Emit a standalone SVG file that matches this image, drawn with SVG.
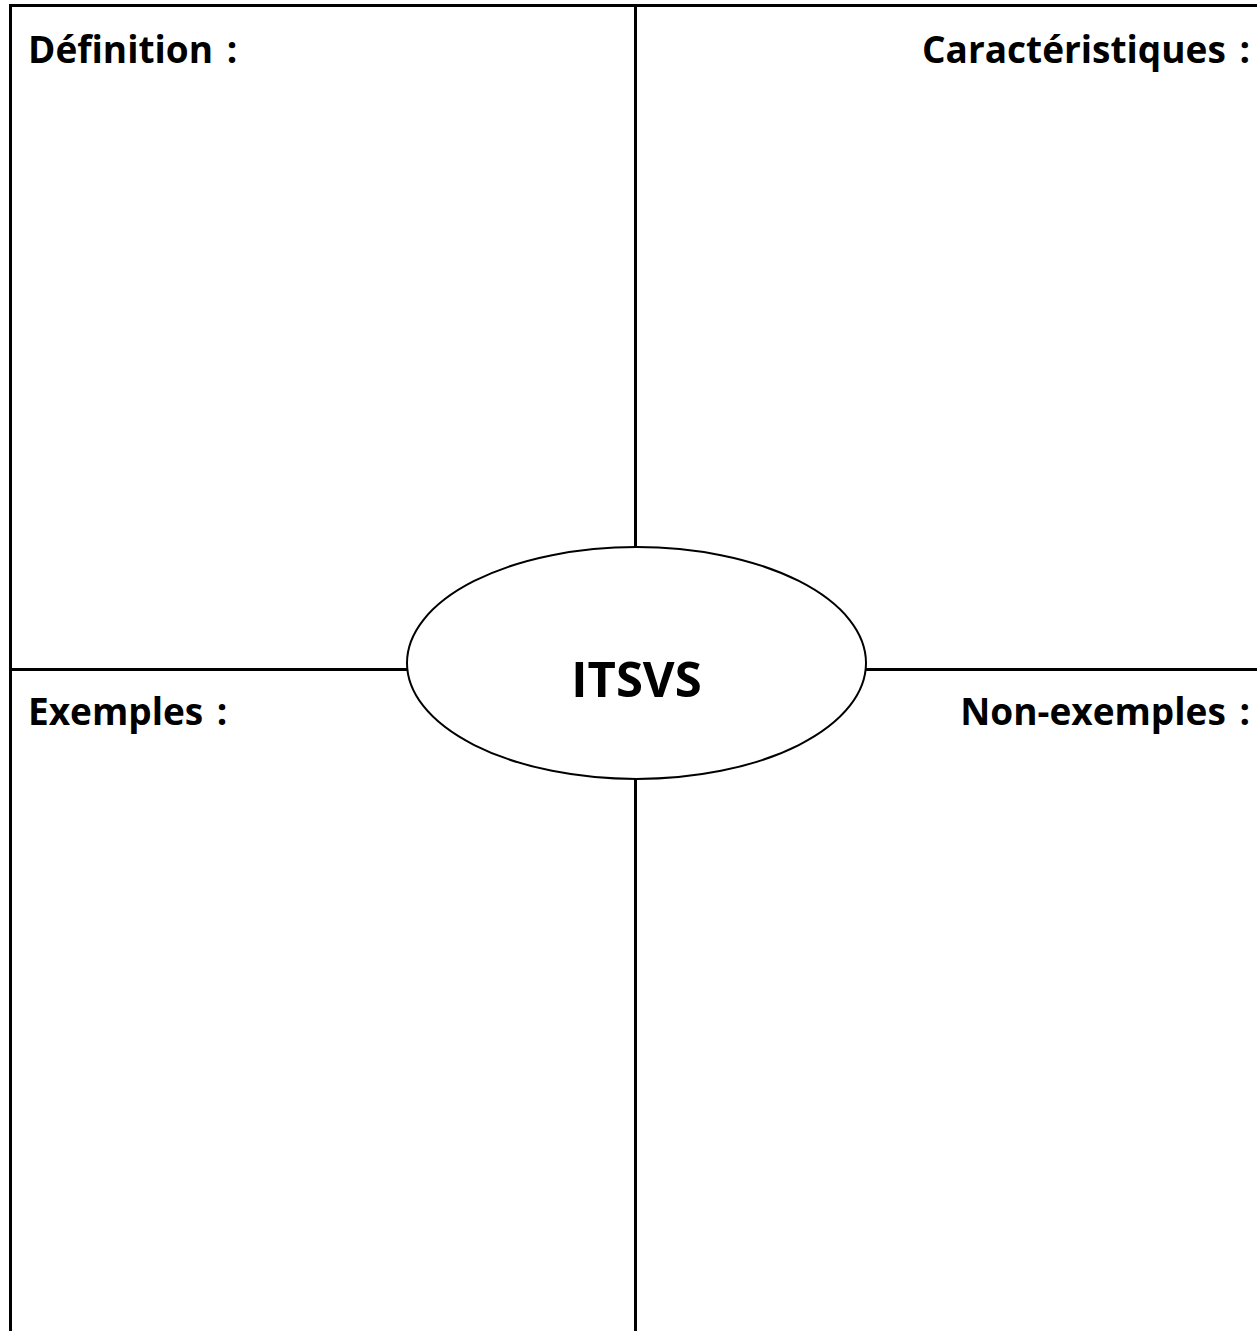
<svg xmlns="http://www.w3.org/2000/svg" width="1257" height="1331" viewBox="0 0 1257 1331">
<style>
.ln{stroke:#000;stroke-width:3;fill:none}
.lbl{font-family:"Open Sans","Liberation Sans",sans-serif;font-weight:bold;font-size:37px;fill:#000}
.ctr{font-family:"Open Sans","Liberation Sans",sans-serif;font-weight:bold;font-size:49px;fill:#000}
</style>
<rect width="1257" height="1331" fill="#fff"/>
<g id="connectors">
<line class="ln" x1="10.5" y1="5.5" x2="1257" y2="5.5"/>
<line class="ln" x1="10.5" y1="4" x2="10.5" y2="1331"/>
<line class="ln" x1="635.5" y1="5.5" x2="635.5" y2="548"/>
<line class="ln" x1="635.5" y1="778" x2="635.5" y2="1331"/>
<line class="ln" x1="10.5" y1="669.5" x2="408" y2="669.5"/>
<line class="ln" x1="865" y1="669.5" x2="1257" y2="669.5"/>
</g>
<g id="definition"><text class="lbl" x="28" y="63" word-spacing="4">Définition :</text></g>
<g id="caracteristiques"><text class="lbl" x="1250" y="63" text-anchor="end" word-spacing="4">Caractéristiques :</text></g>
<g id="exemples"><text class="lbl" x="28" y="725" word-spacing="4">Exemples :</text></g>
<g id="non-exemples"><text class="lbl" x="1250" y="725" text-anchor="end" word-spacing="4">Non-exemples :</text></g>
<g id="center">
<ellipse cx="636.5" cy="663" rx="229.5" ry="116" fill="#fff" stroke="#000" stroke-width="2"/>
<text class="ctr" x="636.5" y="697" text-anchor="middle">ITSVS</text>
</g>
</svg>
